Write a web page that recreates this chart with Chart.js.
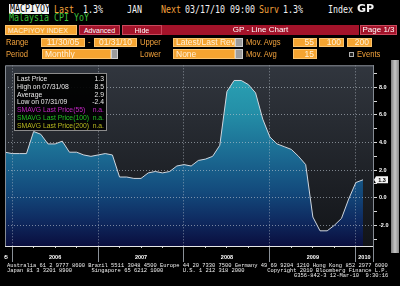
<!DOCTYPE html>
<html><head><meta charset="utf-8">
<script src="https://cdn.jsdelivr.net/npm/chart.js"></script>
<style>
html,body{margin:0;padding:0;background:#000;}
body{width:400px;height:286px;overflow:hidden;position:relative;}
.a{position:absolute;white-space:pre;}
.m{font-family:'DejaVu Sans Mono',monospace;font-size:10px;line-height:10px;transform:scaleX(0.83);transform-origin:0 0;}
.or{color:#f2a23c;}
.wh{color:#f2f2f2;}
.lb{position:absolute;white-space:pre;font-family:'Liberation Sans',sans-serif;font-size:9px;line-height:9px;color:#f2a23c;transform:scaleX(0.85);transform-origin:0 0;}
.bx{position:absolute;background:#f5a431;box-sizing:border-box;border:1px solid #fcc46e;display:flex;align-items:center;padding:0 2px;overflow:hidden;}
.bx span{color:#fff0d8;font-family:'Liberation Sans',sans-serif;font-size:8.5px;white-space:pre;line-height:1;}
.bx.r{justify-content:flex-end;}
.gt{position:absolute;background:#9c9c9c;box-sizing:border-box;border:1px solid #cfcfcf;}
.rb{position:absolute;background:#a3132a;box-sizing:border-box;border:1px solid #c9485c;display:flex;align-items:center;justify-content:center;color:#fff;font-family:'Liberation Sans',sans-serif;font-size:7px;white-space:pre;line-height:1;}
.ft{position:absolute;left:7px;font-family:'Liberation Mono',monospace;font-size:5.43px;line-height:5.3px;color:#f0f0f0;white-space:pre;}
#stats{position:absolute;left:14px;top:73px;width:93px;height:58px;box-sizing:border-box;border:1px solid #8c8c8c;background:rgba(0,0,0,0.92);padding:1px 2px 0 2px;font-family:'Liberation Sans',sans-serif;font-size:6.8px;line-height:7.8px;}
#stats div{display:flex;justify-content:space-between;white-space:pre;}
#cv{position:absolute;left:4px;top:60px;}
#sb{position:absolute;left:391px;top:60px;width:8px;height:193px;background:linear-gradient(to right,#7e7e7e,#c6c6c6 50%,#8a8a8a);}
</style>
</head><body>
<canvas id="cv" width="396" height="203"></canvas>
<div id="sb"></div>

<!-- header row 1 -->
<div class="a" style="left:9px;top:3.5px;width:40px;height:10px;background:#f4f4f4;"></div>
<div class="a m" style="left:9.5px;top:4.3px;color:#000;">MACPIYOY</div>
<div class="a m or" style="left:54px;top:4.8px;">Last</div>
<div class="a m wh" style="left:83px;top:4.8px;">1.3%</div>
<div class="a m wh" style="left:127px;top:4.8px;">JAN</div>
<div class="a m or" style="left:161px;top:4.8px;">Next</div>
<div class="a m wh" style="left:185px;top:4.8px;">03/17/10 09:00</div>
<div class="a m or" style="left:259px;top:4.8px;">Surv</div>
<div class="a m wh" style="left:283px;top:4.8px;">1.3%</div>
<div class="a m wh" style="left:328px;top:4.8px;">Index</div>
<div class="a" style="left:357px;top:3.3px;font-family:'DejaVu Sans',sans-serif;font-weight:bold;font-size:11px;line-height:11px;color:#f4f4f4;">GP</div>
<!-- header row 2 -->
<div class="a m" style="left:9px;top:13.3px;color:#3cc03c;">Malaysia CPI YoY</div>
<!-- row 3 -->
<div class="bx" style="left:5px;top:25px;width:72px;height:10px;"><span style="font-size:7px">MACPIYOY INDEX</span></div>
<div class="rb" style="left:79px;top:25px;width:41px;height:10px;">Advanced</div>
<div class="rb" style="left:122px;top:25px;width:40px;height:10px;">Hide</div>
<div class="rb" style="left:162px;top:25px;width:197px;height:10px;font-size:8px;border-color:#a3132a;">GP - Line Chart</div>
<div class="rb" style="left:360px;top:25px;width:37px;height:10px;font-size:8px;">Page 1/3</div>
<!-- row 4 -->
<div class="lb" style="left:6px;top:38.1px;">Range</div>
<div class="bx" style="left:41px;top:38px;width:44px;height:9px;justify-content:center;"><span>11/30/05</span></div>
<div class="lb" style="left:88px;top:38.1px;">-</div>
<div class="bx" style="left:94px;top:38px;width:43px;height:9px;justify-content:center;"><span>01/31/10</span></div>
<div class="lb" style="left:140px;top:38.1px;">Upper</div>
<div class="bx" style="left:173px;top:38px;width:62px;height:9px;"><span>Latest/Last Revi</span></div>
<div class="gt" style="left:235px;top:38px;width:8px;height:9px;"></div>
<div class="lb" style="left:246px;top:38.1px;">Mov. Avgs</div>
<div class="bx r" style="left:293px;top:38px;width:24px;height:9px;"><span>55</span></div>
<div class="bx r" style="left:319px;top:38px;width:25px;height:9px;"><span>100</span></div>
<div class="bx r" style="left:347px;top:38px;width:25px;height:9px;"><span>200</span></div>
<!-- row 5 -->
<div class="lb" style="left:6px;top:49.5px;">Period</div>
<div class="bx" style="left:42px;top:49px;width:69px;height:10px;"><span>Monthly</span></div>
<div class="gt" style="left:111px;top:49px;width:7px;height:10px;"></div>
<div class="lb" style="left:140px;top:49.5px;">Lower</div>
<div class="bx" style="left:173px;top:49px;width:62px;height:10px;"><span>None</span></div>
<div class="gt" style="left:235px;top:49px;width:8px;height:10px;"></div>
<div class="lb" style="left:246px;top:49.5px;">Mov. Avg</div>
<div class="bx r" style="left:293px;top:49px;width:24px;height:10px;"><span>15</span></div>
<div class="a" style="left:349px;top:51.5px;width:5px;height:5px;box-sizing:border-box;border:1px solid #b0b0b0;background:#222;"></div>
<div class="lb" style="left:357px;top:49.5px;">Events</div>

<div id="stats"></div>

<div class="ft" style="top:262.8px;">Australia 61 2 9777 8600 Brazil 5511 3048 4500 Europe 44 20 7330 7500 Germany 49 69 9204 1210 Hong Kong 852 2977 6000</div>
<div class="ft" style="top:268.1px;">Japan 81 3 3201 8900      Singapore 65 6212 1000      U.S. 1 212 318 2000       Copyright 2010 Bloomberg Finance L.P.</div>
<div class="ft" style="top:273.4px;left:294px;">G356-842-3 12-Mar-10  9:30:16</div>

<script>
const months = [
  'Nov 2005','Dec 2005',
  'Jan 2006','Feb 2006','Mar 2006','Apr 2006','May 2006','Jun 2006','Jul 2006','Aug 2006','Sep 2006','Oct 2006','Nov 2006','Dec 2006',
  'Jan 2007','Feb 2007','Mar 2007','Apr 2007','May 2007','Jun 2007','Jul 2007','Aug 2007','Sep 2007','Oct 2007','Nov 2007','Dec 2007',
  'Jan 2008','Feb 2008','Mar 2008','Apr 2008','May 2008','Jun 2008','Jul 2008','Aug 2008','Sep 2008','Oct 2008','Nov 2008','Dec 2008',
  'Jan 2009','Feb 2009','Mar 2009','Apr 2009','May 2009','Jun 2009','Jul 2009','Aug 2009','Sep 2009','Oct 2009','Nov 2009','Dec 2009',
  'Jan 2010'
];
const cpiYoY = [
  3.3, 3.2,
  3.2, 3.2, 4.8, 4.6, 3.9, 3.9, 4.1, 3.3, 3.3, 3.1, 3.0, 3.1,
  3.2, 3.1, 1.5, 1.5, 1.4, 1.4, 1.8, 1.9, 1.8, 1.9, 2.3, 2.4,
  2.3, 2.7, 2.8, 3.0, 3.8, 7.7, 8.5, 8.5, 8.2, 7.6, 5.7, 4.4,
  3.9, 3.7, 3.5, 3.0, 2.4, -1.4, -2.4, -2.4, -2.0, -1.5, -0.1, 1.1,
  1.3
];
const yearLabels = ['2005', '2006', '2007', '2008', '2009', '2010'];
const yearLabelPos = [-0.45, 7, 19, 31, 43, 50.2];
const yMajorTicks = [-2, 0, 2, 4, 6, 8];
const yMinorTicks = [-3, -1, 1, 3, 5, 7, 9];
const statNames = ['Last Price', 'High on 07/31/08', 'Average', 'Low on 07/31/09', 'SMAVG Last Price(55)', 'SMAVG Last Price(100)', 'SMAVG Last Price(200)'];
const statValues = ['1.3', '8.5', '2.9', '-2.4', 'n.a.', 'n.a.', 'n.a.'];
const statColors = ['#e8e8e8', '#e8e8e8', '#e8e8e8', '#e8e8e8', '#c424c4', '#22c022', '#b8b81e'];

const st = document.getElementById('stats');
statNames.forEach((n, i) => {
  const d = document.createElement('div');
  d.style.color = statColors[i];
  const a = document.createElement('span'); a.textContent = n;
  const b = document.createElement('span'); b.textContent = statValues[i];
  d.appendChild(a); d.appendChild(b); st.appendChild(d);
});

const yearEnds = months.map((m, i) => m.startsWith('Dec') ? i : -1).filter(i => i >= 0);
const quarterEnds = months.map((m, i) => /^(Mar|Jun|Sep)/.test(m) ? i : -1).filter(i => i >= 0);
const X_MAX = 51.4;
const GRID = 'rgba(190,198,208,0.6)';
const FONT = "'Liberation Sans', Arial, sans-serif";

const deco = {
  id: 'deco',
  beforeDraw(chart) {
    const {ctx, chartArea: ca} = chart;
    const g = ctx.createLinearGradient(0, ca.top, 0, ca.bottom);
    g.addColorStop(0, '#31363e');
    g.addColorStop(1, '#121418');
    ctx.save();
    ctx.fillStyle = g;
    ctx.fillRect(ca.left, ca.top, ca.right - ca.left, ca.bottom - ca.top);
    ctx.restore();
  },
  afterDraw(chart) {
    const {ctx, chartArea: ca} = chart;
    ctx.save();
    ctx.strokeStyle = '#858b93';
    ctx.lineWidth = 1;
    ctx.beginPath();
    ctx.moveTo(ca.left + 0.5, ca.bottom);
    ctx.lineTo(ca.left + 0.5, ca.top + 0.5);
    ctx.lineTo(ca.right, ca.top + 0.5);
    ctx.moveTo(ca.right + 0.5, ca.top);
    ctx.lineTo(ca.right + 0.5, ca.bottom + 16);
    ctx.stroke();
    const last = cpiYoY[cpiYoY.length - 1];
    const y = chart.scales.y.getPixelForValue(last);
    ctx.fillStyle = '#f4f4f4';
    ctx.beginPath();
    ctx.moveTo(ca.right + 1, y);
    ctx.lineTo(ca.right + 3, y - 3.5);
    ctx.lineTo(ca.right + 15, y - 3.5);
    ctx.lineTo(ca.right + 15, y + 3.5);
    ctx.lineTo(ca.right + 3, y + 3.5);
    ctx.closePath();
    ctx.fill();
    ctx.fillStyle = '#000';
    ctx.font = "bold 5.5px " + FONT;
    ctx.textAlign = 'center';
    ctx.textBaseline = 'middle';
    ctx.fillText(last.toFixed(1), ca.right + 9, y + 0.3);
    ctx.restore();
  }
};

new Chart(document.getElementById('cv'), {
  type: 'line',
  data: {
    datasets: [{
      data: cpiYoY.map((v, i) => ({x: i, y: v})),
      xAxisID: 'x', yAxisID: 'y',
      borderColor: '#cfd6de',
      borderWidth: 1,
      pointRadius: 0,
      tension: 0,
      fill: 'start',
      backgroundColor: (c) => {
        const ca = c.chart.chartArea;
        if (!ca) return 'rgba(0,0,0,0)';
        const g = c.chart.ctx.createLinearGradient(0, ca.top, 0, ca.bottom);
        g.addColorStop(0, '#2ca6b6');
        g.addColorStop(0.25, '#2490a8');
        g.addColorStop(0.5, '#1b6a92');
        g.addColorStop(0.7, '#134a7c');
        g.addColorStop(0.85, '#0f2c62');
        g.addColorStop(1, '#0a0e3e');
        return g;
      }
    }]
  },
  options: {
    responsive: false,
    devicePixelRatio: 1,
    animation: false,
    layout: {padding: {left: 1, right: 10, top: 2, bottom: 1}},
    plugins: {legend: {display: false}, tooltip: {enabled: false}},
    scales: {
      x: {
        type: 'linear', position: 'bottom', min: 0, max: X_MAX, weight: 1,
        afterBuildTicks: (s) => {
          s.ticks = yearEnds.map(v => ({value: v, yb: true}))
            .concat(yearLabelPos.map((v, k) => ({value: v, lbl: yearLabels[k]})));
        },
        afterFit: (s) => { s.height = 16; },
        ticks: {
          autoSkip: false, maxRotation: 0, minRotation: 0, padding: -8,
          color: '#ffffff', font: {family: FONT, size: 5.5, weight: 'bold'},
          callback: (v, i, t) => (t[i] && t[i].lbl) || ''
        },
        grid: {
          z: 1, lineWidth: 1, tickLength: 16, tickBorderDash: [],
          color: (c) => (c.tick && c.tick.yb) ? GRID : 'rgba(0,0,0,0)',
          tickColor: (c) => (c.tick && c.tick.yb) ? '#8a9098' : 'rgba(0,0,0,0)'
        },
        border: {display: true, color: '#e6e6e6', width: 1, dash: [1, 2], z: 2}
      },
      xq: {
        type: 'linear', position: 'bottom', min: 0, max: X_MAX, weight: 0, display: true,
        afterBuildTicks: (s) => { s.ticks = quarterEnds.map(v => ({value: v})); },
        afterFit: (s) => { s.height = 0; },
        ticks: {display: false, autoSkip: false},
        grid: {drawOnChartArea: false, tickLength: 2, tickColor: '#d0d0d0', z: 1},
        border: {display: false}
      },
      y: {
        type: 'linear', position: 'right', min: -3.5, max: 9.6,
        afterBuildTicks: (s) => {
          s.ticks = yMinorTicks.concat(yMajorTicks).sort((a, b) => a - b).map(v => ({value: v}));
        },
        afterFit: (s) => { s.width = 17; },
        ticks: {
          autoSkip: false, padding: 2, color: '#ffffff',
          font: {family: FONT, size: 5.5, weight: 'bold'},
          callback: (v) => yMajorTicks.includes(v) ? v.toFixed(1) : ''
        },
        grid: {
          z: 1, lineWidth: 1, tickLength: 4, tickBorderDash: [],
          color: (c) => (c.tick && yMajorTicks.includes(c.tick.value)) ? GRID : 'rgba(0,0,0,0)',
          tickColor: '#d8d8d8'
        },
        border: {display: true, color: '#858b93', width: 1, dash: [1, 2], z: 2}
      }
    }
  },
  plugins: [deco]
});
</script>
</body></html>
